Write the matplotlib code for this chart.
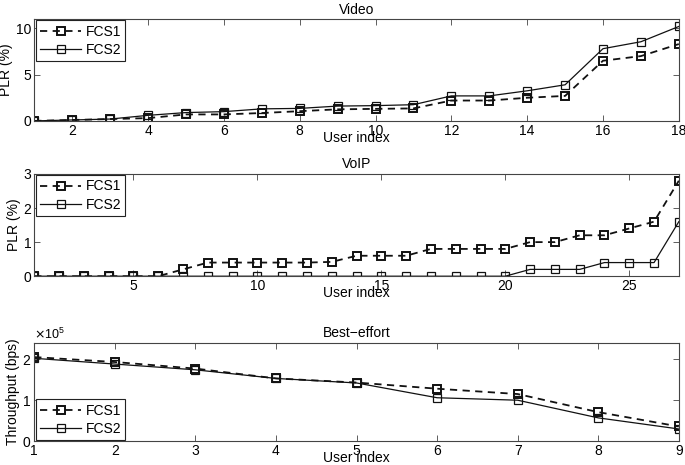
import numpy as np
import matplotlib
matplotlib.use("Agg")
import matplotlib.pyplot as plt

plt.rcParams['font.family'] = ['Liberation Sans Narrow', 'DejaVu Sans Condensed', 'Liberation Sans', 'DejaVu Sans']
plt.rcParams['font.size'] = 10

# Video PLR (%)
video_users = np.arange(1, 19)
video_fcs1 = [0, 0.1, 0.2, 0.3, 0.7, 0.7, 0.85, 1.05, 1.25, 1.3, 1.35, 2.2, 2.2, 2.5, 2.7, 6.5, 7.0, 8.3]
video_fcs2 = [0, 0.1, 0.2, 0.6, 0.9, 1.0, 1.3, 1.35, 1.6, 1.65, 1.75, 2.7, 2.7, 3.25, 3.9, 7.8, 8.55, 10.2]

# VoIP PLR (%)
voip_users = np.arange(1, 28)
voip_fcs1 = [0, 0, 0, 0, 0, 0, 0.2, 0.4, 0.4, 0.4, 0.4, 0.4, 0.42, 0.6, 0.6, 0.6,
             0.8, 0.8, 0.8, 0.8, 1.0, 1.0, 1.2, 1.2, 1.4, 1.6, 2.8]
voip_fcs2 = [0] * 20 + [0.2, 0.2, 0.2, 0.4, 0.4, 0.4, 1.6]

# Best-effort throughput (bps)
be_users = np.arange(1, 10)
be_fcs1 = [2.05e5, 1.93e5, 1.77e5, 1.53e5, 1.43e5, 1.28e5, 1.15e5, 0.71e5, 0.36e5]
be_fcs2 = [2.02e5, 1.88e5, 1.74e5, 1.53e5, 1.42e5, 1.06e5, 1.0e5, 0.57e5, 0.30e5]

fig = plt.figure(figsize=(6.85, 4.65), dpi=100)

# axes boxes [left, bottom, width, height] in figure fractions
boxes = [
    [0.050, 0.740, 0.941, 0.219],
    [0.050, 0.406, 0.941, 0.220],
    [0.050, 0.051, 0.941, 0.212],
]

panels = [
    ("Video", video_users, video_fcs1, video_fcs2, "PLR (%)", (0, 11), range(2, 19, 2), [0, 5, 10], 'upper left'),
    ("VoIP", voip_users, voip_fcs1, voip_fcs2, "PLR (%)", (0, 3), range(5, 26, 5), [0, 1, 2, 3], 'upper left'),
    ("Best\u2212effort", be_users, be_fcs1, be_fcs2, "Throughput (bps)", (0, 2.4e5), range(1, 10), [0, 1e5, 2e5], 'lower left'),
]

for box, (title, x, y1, y2, ylab, ylim, xt, yt, loc) in zip(boxes, panels):
    ax = fig.add_axes(box)
    ax.plot(x, y1, linestyle='--', color='#111111', lw=1.3, marker='s', ms=5.5,
            mfc='none', mec='#111111', mew=1.4, dashes=(4, 3), label='FCS1')
    ax.plot(x, y2, linestyle='-', color='#111111', lw=0.9, marker='s', ms=6,
            mfc='none', mec='#111111', mew=0.9, label='FCS2')
    ax.set_xlim(x[0], x[-1])
    ax.set_ylim(*ylim)
    ax.set_xticks(list(xt))
    ax.set_yticks(yt)
    ax.tick_params(direction='in', top=True, right=True, length=4, width=0.6,
                   labelsize=10, pad=2, color='#444444')
    for s in ax.spines.values():
        s.set_linewidth(0.8)
        s.set_color('#444444')
    ax.set_title(title, fontsize=10, pad=4)
    ax.set_xlabel("User index", fontsize=10, labelpad=-5)
    ax.set_ylabel(ylab, fontsize=10, labelpad=2)
    leg = ax.legend(loc=loc, frameon=True, fancybox=False, framealpha=1,
                    edgecolor='#222222', fontsize=10, handlelength=3.0,
                    borderaxespad=0.1, borderpad=0.3, labelspacing=0.3,
                    handletextpad=0.3)
    leg.get_frame().set_linewidth(0.8)
    if title.startswith("Best"):
        ax.ticklabel_format(axis='y', style='sci', scilimits=(0, 0), useMathText=True)
        ax.yaxis.get_offset_text().set_fontsize(9)

fig.savefig("out.png", dpi=100)
